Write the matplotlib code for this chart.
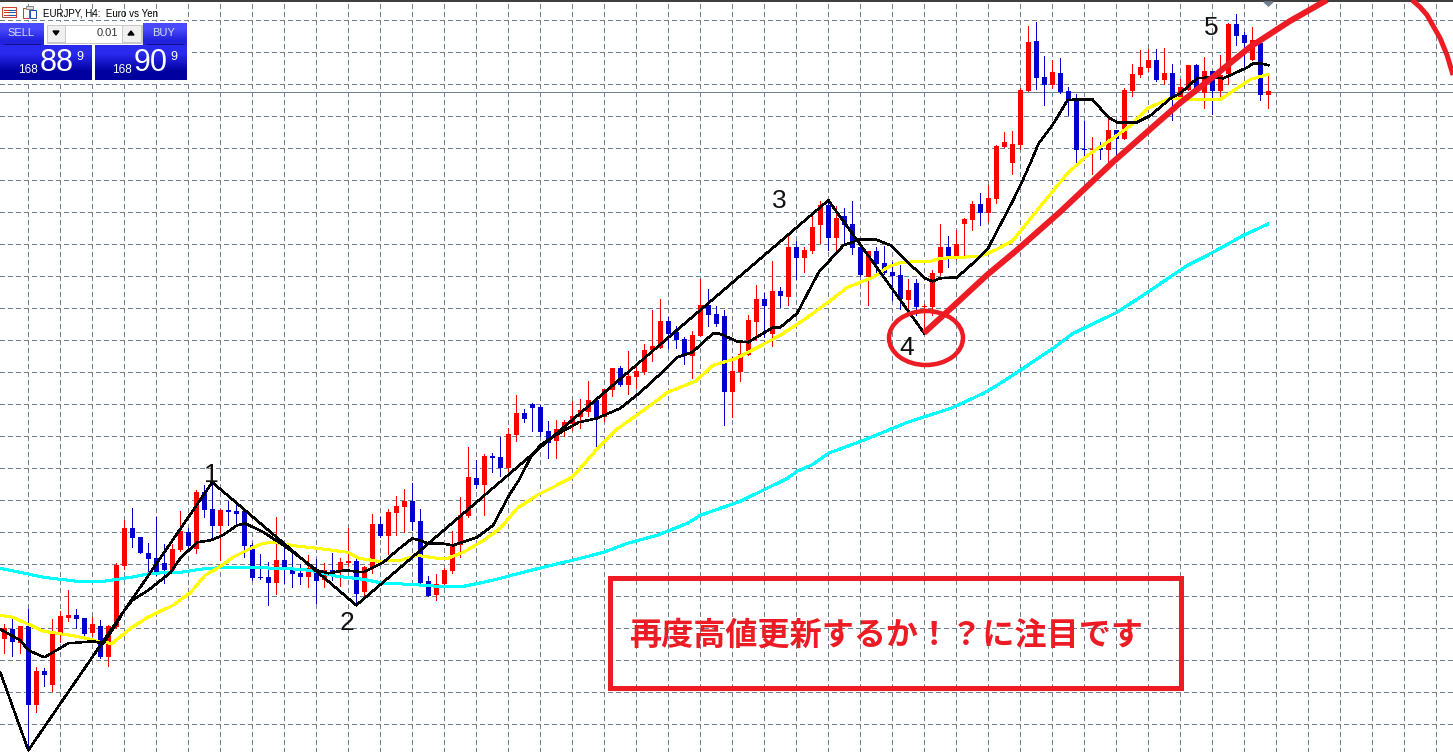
import numpy as np
import matplotlib
matplotlib.use("Agg")
import matplotlib.pyplot as plt
from matplotlib.patches import Ellipse, Polygon, Rectangle

opens = [639,629,643,626,705,671,685,633,618,615,
         618,633,626,657,627,566,528,537,553,558,
         563,570,550,532,549,492,509,526,510,511,
         511,545,577,577,583,560,570,573,577,569,
         580,570,570,563,561,592,567,524,536,513,
         507,501,521,581,595,584,571,545,516,478,
         485,456,457,468,435,413,404,407,431,441,
         430,424,417,412,400,417,390,368,385,377,
         372,350,348,321,332,339,356,336,305,314,
         316,392,372,355,322,299,334,291,297,247,
         258,251,225,205,238,216,224,247,277,251,
         263,272,275,300,283,307,307,273,247,257,
         224,220,204,213,199,147,163,145,91,41,
         77,85,73,91,99,149,150,148,150,130,
         139,91,75,68,60,80,73,99,90,65,
         93,71,91,74,24,35,60,43,95]
closes = [628,642,626,705,671,675,633,616,615,619,
          634,624,657,626,565,528,538,553,559,573,
          570,549,531,546,492,510,526,510,512,514,
          546,578,578,583,560,567,574,577,568,581,
          570,574,562,561,594,567,524,536,512,506,
          501,522,583,596,584,570,546,515,477,485,
          456,458,468,434,413,419,408,432,443,429,
          422,416,410,400,419,389,368,385,376,371,
          350,346,321,334,340,356,335,305,315,324,
          392,371,354,320,299,306,291,296,247,258,
          250,227,205,238,218,225,248,275,251,264,
          273,276,299,290,307,306,273,247,257,244,
          219,204,213,198,146,142,144,90,42,78,
          85,72,92,101,150,150,149,150,130,139,
          90,74,67,60,80,73,99,87,65,90,
          71,91,75,24,36,43,40,95,91]
highs = [624,619,626,609,667,668,619,611,590,609,
         618,617,620,625,563,520,508,537,543,517,
         544,544,511,528,490,485,468,509,501,502,
         509,543,554,562,517,547,552,564,555,559,
         563,553,558,528,558,566,514,517,509,496,
         489,483,509,576,574,568,531,497,447,460,
         454,453,437,428,395,409,403,405,421,420,
         420,401,399,381,399,389,368,366,351,365,
         344,310,299,317,326,337,331,279,289,306,
         310,357,341,315,285,293,261,287,235,241,
         247,214,201,201,206,208,201,247,251,247,
         246,262,265,279,279,304,270,224,236,230,
         218,201,193,185,145,132,131,88,26,22,
         56,60,58,87,94,121,137,142,119,130,
         88,64,50,49,49,48,64,79,65,64,
         57,71,55,23,14,32,27,40,76]
lows = [653,656,653,750,712,686,691,642,621,628,
        636,636,658,666,628,569,547,553,575,575,
        583,571,551,548,553,517,537,560,525,523,
        557,580,579,605,594,583,587,584,587,603,
        587,580,586,566,605,598,573,537,554,535,
        532,530,584,596,600,585,573,557,517,488,
        515,472,476,471,441,422,431,436,458,458,
        436,430,428,416,449,421,396,386,394,388,
        374,361,348,348,348,364,378,336,326,326,
        425,417,381,355,340,337,346,307,305,279,
        272,253,243,250,252,242,254,276,305,276,
        274,300,309,310,315,330,315,275,267,259,
        256,230,225,222,203,147,174,149,91,89,
        105,88,93,115,162,157,174,159,165,154,
        139,96,77,71,81,84,120,100,90,93,
        108,114,100,84,45,68,60,100,108]

# zigzag pivots, bar number and level
zigzag_bars = [-0.5, 3, 26, 44, 103, 115]
zigzag_vals = [672, 750, 482, 605, 200, 333]

# moving averages, read at the bars where the curve bends
fast_bars = [-0.5,2,3,5,8,11.1,12.4,13.9,15,16,18,20.8,22,24.1,25.8,27.3,29.1,30.1,32.4,34.9,
             36.1,39.1,40.5,42.6,44.9,47.4,49.1,51,53,54.5,56.1,59.1,61.1,63.1,64.3,65.8,67,68.9,71.8,74.1,
             77,79.5,82.9,84.1,86,88.6,89.3,91.6,93,96.1,97,99.1,101.8,104.9,107,108.9,110.8,112.4,115.1,116,
             117,119.1,120.8,122.9,126.1,127.3,128.3,129.3,131,132.9,134.1,136,138,139.1,141.6,143.3,145.8,147,149.1,150.8,
             152.4,155.4,156.1,157,158]
fast_vals = [629,640,650,657,643,641,643,625,610,600,590,572,558,542,540,535,525,523,532,545,
             552,570,573,570,572,562,550,538,543,543,545,537,525,495,480,457,445,435,422,418,
             408,392,367,357,352,333,333,341,342,327,327,313,272,245,239,239,245,258,278,281,
             278,277,265,249,200,180,162,143,125,100,99,99,117,122,122,115,98,93,78,77,
             78,67,63,63,65]

slow_bars = [-0.5,1.1,3,4.9,8.3,10.8,12,13.5,15.8,17.9,21.1,23.3,25.1,26.8,28.6,30.8,32.4,33.6,35.8,39.1,
             42,43,44.3,46.8,49.5,51.6,54.1,55.4,57.4,59.9,62,64.1,66.6,71,74.5,76.4,81.1,82.9,86.4,88.6,
             91.1,92,97,100.4,103.3,105.4,108.6,110.4,112,115.8,117,122,124.1,126.1,129.1,132.9,135.4,138.6,140.8,142.9,
             145.8,148.3,152,155.8,158]
slow_vals = [615,617,624,631,635,639,642,643,628,617,605,592,575,567,557,548,543,542,545,548,
             551,552,558,561,560,555,558,558,552,540,528,508,495,477,445,430,403,392,381,365,
             359,356,335,317,300,287,277,267,262,261,258,256,249,240,210,173,155,138,125,108,
             98,99,99,79,74]

trend_bars = [-0.5,2,4.9,9.1,12.4,15.8,18.3,22,25.4,28.6,34.9,38.3,41.6,44.9,47.4,50.8,54.1,57.4,59.9,62,
              65.8,72,74.9,77.9,81.6,85.4,87,92,97.9,99.1,101.1,103,107.4,112.9,118.3,122.4,124.1,127,131.1,133.6,
              139.1,142.9,147.9,151.1,154.9,157.9]
trend_vals = [568,572,577,581,581,577,573,572,568,567,568,570,576,579,583,584,586,586,582,578,
              570,558,552,543,535,523,515,501,478,471,464,453,440,422,408,393,385,370,348,333,
              312,292,265,252,235,224]

# grey guide lines of the terminal
grid_bars = np.arange(3, 182, 4)
grid_levels = np.arange(20, 752, 32)
current_level = 92

wave_labels = ["1", "2", "3", "4", "5"]
wave_x = [211, 347, 779, 907, 1211]
wave_y = [475, 623, 201, 348, 28]

# hand drawn red stroke and arc, screen positions
stroke_x = [924, 960, 987, 1017, 1060, 1113, 1180, 1213, 1250, 1290, 1327]
stroke_y = [333, 300, 275, 250, 212, 162, 103, 77, 47, 21, 0]
arc_x = [1412, 1420, 1427, 1440, 1447, 1453]
arc_y = [0, 7, 15, 38, 55, 75]

RED = "#ED1C24"
GRID = "#708090"
px = 0.72  # one pixel in points at dpi 100

fig = plt.figure(figsize=(14.53, 7.52), dpi=100, facecolor="white")
ax = fig.add_axes([0, 0, 1, 1])
ax.set_xlim(-0.5375, 181.0875)
ax.set_ylim(751.7, -0.3)
ax.set_xticks(grid_bars)
ax.set_yticks(grid_levels)
ax.tick_params(length=0, labelbottom=False, labelleft=False)
ax.grid(True, color=GRID, lw=px, linestyle=(0, (5, 3)), antialiased=False)
ax.set_axisbelow(True)
for s in ax.spines.values():
    s.set_visible(False)

ax.axhline(current_level, color=GRID, lw=px, zorder=1, antialiased=False)
ax.axhline(1, color="black", lw=1.5 * px, zorder=1)

bars = np.arange(len(opens))
opens = np.array(opens)
closes = np.array(closes)
colors = np.where(closes <= opens, "#FF0000", "#0000CC")
ax.vlines(bars, highs, lows, colors=colors, lw=px, zorder=2.5, antialiased=False)
ax.bar(bars, closes - opens, bottom=opens, width=5 / 8, color=colors, lw=0, zorder=3, antialiased=False)

ax.plot(trend_bars, trend_vals, color="#00FFFF", lw=2 * px, zorder=4, antialiased=False)
ax.plot(slow_bars, slow_vals, color="#FFFF00", lw=2 * px, zorder=4, antialiased=False)
ax.plot(fast_bars, fast_vals, color="black", lw=1.5 * px, zorder=5, antialiased=False)
ax.plot(zigzag_bars, zigzag_vals, color="black", lw=1.5 * px, zorder=5, antialiased=False)

# second axes in screen pixels for the drawings on top
over = fig.add_axes([0, 0, 1, 1])
over.set_xlim(0, 1453)
over.set_ylim(752, 0)
over.axis("off")

over.plot(stroke_x, stroke_y, color=RED, lw=6 * px, solid_capstyle="butt", zorder=6)
over.plot(arc_x, arc_y, color=RED, lw=5 * px, solid_capstyle="butt", zorder=6)
over.add_patch(Ellipse((926, 338), 74, 54, fill=False, ec=RED, lw=4.5 * px, zorder=6))
over.add_patch(Rectangle((609.5, 577.5), 571, 110, fill=False, ec=RED, lw=5 * px, zorder=6))
over.text(886, 635, "再度高値更新するか！？に注目です", color=RED, fontsize=23.1, fontweight="bold",
          family=["Noto Sans CJK JP", "DejaVu Sans"], ha="center", va="center", zorder=7)

for label, x, y in zip(wave_labels, wave_x, wave_y):
    over.text(x, y, label, color="#111111", fontsize=19, family="Liberation Sans",
              ha="center", va="center", zorder=7)

over.add_patch(Polygon([(1264, 2), (1273, 2), (1268.5, 6)], color=GRID, zorder=6))


def panel(x0, y0, w, h, top, bottom):
    grad = np.array([[matplotlib.colors.to_rgb(top)], [matplotlib.colors.to_rgb(bottom)]])
    over.imshow(grad, extent=(x0, x0 + w, y0 + h, y0), aspect="auto", interpolation="bilinear", zorder=8)


# one click trading box
over.add_patch(Rectangle((0, 22), 189, 60, color="white", zorder=7.5))
panel(0, 23, 44, 23, "#4A4AFF", "#2222DD")
panel(143, 23, 44, 23, "#4A4AFF", "#2222DD")
panel(0, 45, 92, 35, "#2A2AEE", "#0000A0")
panel(95, 45, 92, 35, "#2A2AEE", "#0000A0")
over.set_xlim(0, 1453)
over.set_ylim(752, 0)
over.plot([4, 40], [44, 44], color="#10108A", lw=px, zorder=9)
over.plot([147, 183], [44, 44], color="#10108A", lw=px, zorder=9)
over.add_patch(Rectangle((46.5, 24.5), 95, 18, fc="white", ec="#C8C8C8", lw=px, zorder=8))
over.add_patch(Rectangle((47, 25), 18, 17, fc="#F0F0F0", ec="#C8C8C8", lw=px, zorder=8))
over.add_patch(Rectangle((122, 25), 19, 17, fc="#F0F0F0", ec="#C8C8C8", lw=px, zorder=8))
over.add_patch(Polygon([(53, 31), (59, 31), (56, 35)], color="black", zorder=9))
over.add_patch(Polygon([(128, 35), (134, 35), (131, 31)], color="black", zorder=9))
over.text(118, 33, "0.01", fontsize=8, family="Liberation Sans", color="#333333", ha="right", va="center", zorder=9)

soft = "#D5DAFF"
over.text(21, 33, "SELL", fontsize=8, family="Liberation Sans", color=soft, ha="center", va="center", zorder=9)
over.text(164, 33, "BUY", fontsize=8, family="Liberation Sans", color=soft, ha="center", va="center", zorder=9)
for x, small, big, tip in [(18, "168", "88", "9"), (112, "168", "90", "9")]:
    over.text(x, 70, small, fontsize=8.5, family="Liberation Sans", color="white", va="center", zorder=9)
    over.text(x + 22, 63, big, fontsize=22, family="Liberation Sans", color="white", va="center", zorder=9)
    over.text(x + 58, 57, tip, fontsize=9, family="Liberation Sans", color="white", va="center", zorder=9)

# chart title with the two little window icons
over.add_patch(Rectangle((2, 7), 14, 10, fc="white", ec="#D04030", lw=px, zorder=9))
for y in [9.5, 12, 14.5]:
    over.plot([4, 8], [y, y], color="#D04030", lw=px, zorder=9)
    over.plot([9, 15], [y, y], color="#2050B0", lw=px, zorder=9)
over.add_patch(Rectangle((23, 8), 6, 10, fc="white", ec="#D04030", lw=px, zorder=9))
over.add_patch(Rectangle((30, 10), 6, 8, fc="white", ec="#2050B0", lw=px, zorder=9))
over.add_patch(Rectangle((26, 6), 7, 3, fc="#DDDDDD", ec="#888888", lw=px, zorder=9))
over.text(43, 13, "EURJPY, H4:  Euro vs Yen", fontsize=7, family="Liberation Sans", color="black",
          va="center", zorder=9)

fig.savefig("out.png", dpi=100, facecolor="white")
